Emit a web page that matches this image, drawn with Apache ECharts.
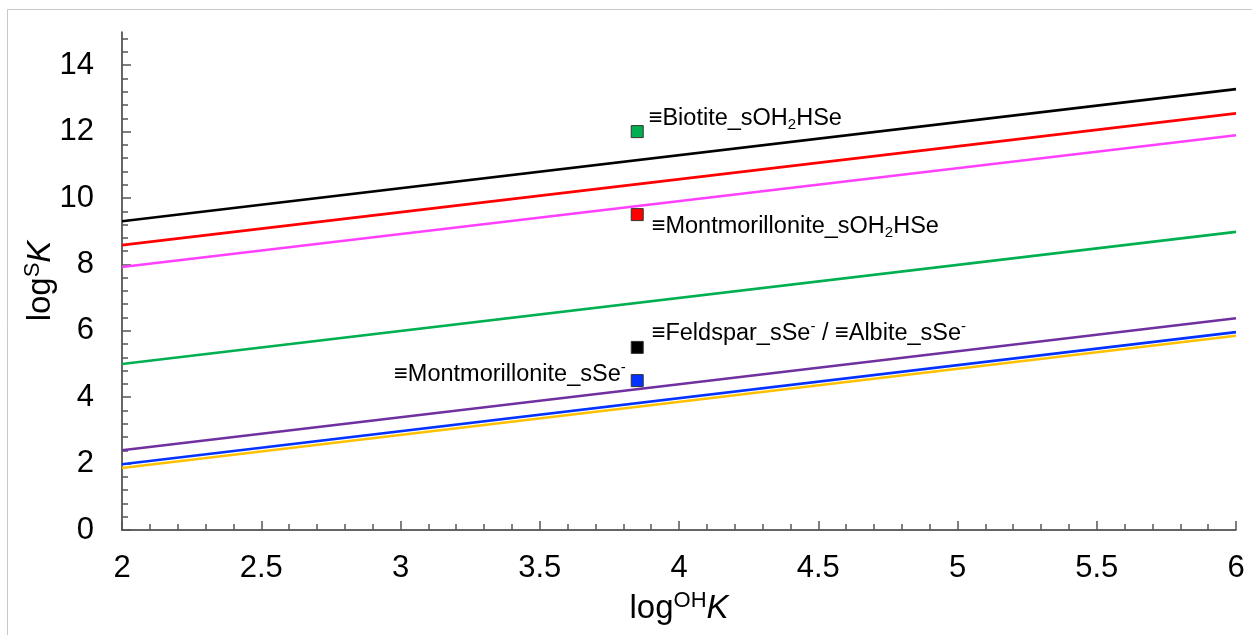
<!DOCTYPE html>
<html>
<head>
<meta charset="utf-8">
<script src="https://cdn.jsdelivr.net/npm/echarts@6/dist/echarts.min.js"></script>
<style>
  html, body { margin: 0; padding: 0; background: #fff; }
  #chart { width: 1252px; height: 635px; }
</style>
</head>
<body>
<div id="chart"></div>
<script>
// logOH K range covered by each linear relation
const xEnds = [2, 6];

// logS K at the two ends (x = 2 and x = 6) of each relation
const lineBlack   = [9.3, 13.28];
const lineRed     = [8.58, 12.55];
const lineMagenta = [7.92, 11.89];
const lineGreen   = [5.0, 8.98];
const linePurple  = [2.4, 6.38];
const lineBlue    = [1.98, 5.96];
const lineOrange  = [1.87, 5.85];

// Surface complexes at logOH K = 3.85
const pointX = 3.85;
const biotiteSOH2HSe = 12.0;
const montSOH2HSe = 9.5;
const feldsparSSe = 5.5;
const montSSe = 4.5;

// Tick values
const xTicks = [2, 2.5, 3, 3.5, 4, 4.5, 5, 5.5, 6];
const yTicks = [0, 2, 4, 6, 8, 10, 12, 14];
const yMinorStep = 0.4;

const yMinor = [];
for (let v = yMinorStep; v < 15 - 1e-9; v += yMinorStep) {
  const r = Math.round(v * 10) / 10;
  if (Math.abs(r / 2 - Math.round(r / 2)) > 1e-9) yMinor.push(r);
}

const font = '"Liberation Sans", Arial, Helvetica, sans-serif';

function lineSeries(vals, color) {
  return {
    type: 'line',
    data: xEnds.map((x, i) => [x, vals[i]]),
    showSymbol: false,
    silent: true,
    lineStyle: { color: color, width: 2.6 },
    z: 2
  };
}

const labelRich = {
  t: { fontSize: 23.5, color: '#000', fontFamily: font },
  sub: { fontSize: 15, color: '#000', fontFamily: font, padding: [12, 0, 0, 0] },
  sup: { fontSize: 15, color: '#000', fontFamily: font, padding: [0, 0, 14, 0] }
};

function pointSeries(y, color, text, position, offset) {
  return {
    type: 'scatter',
    data: [[pointX, y]],
    symbol: 'rect',
    symbolSize: 12,
    itemStyle: { color: color, borderColor: '#333', borderWidth: 1, opacity: 1 },
    label: {
      show: true,
      position: position,
      distance: 5,
      offset: offset,
      formatter: text,
      rich: labelRich
    },
    z: 5
  };
}

const titleRich = {
  a: { fontSize: 33, color: '#000', fontFamily: font },
  s: { fontSize: 22, color: '#000', fontFamily: font, padding: [0, 0, 15, 0] },
  k: { fontSize: 33, color: '#000', fontFamily: font, fontStyle: 'italic' }
};

const chart = echarts.init(document.getElementById('chart'), null, { renderer: 'canvas' });

chart.setOption({
  backgroundColor: '#fff',
  animation: false,
  graphic: [{
    type: 'rect',
    shape: { x: 7.5, y: 9.5, width: 1400, height: 800 },
    style: { fill: null, stroke: '#c8c8c8', lineWidth: 1 },
    silent: true,
    z: -10
  }],
  grid: { left: 122, right: 16, top: 32, bottom: 105, outerBoundsMode: 'none', containLabel: false },
  xAxis: {
    type: 'value',
    min: 2, max: 6, interval: 0.5,
    name: '{a|log}{s|OH}{k|K}',
    nameLocation: 'middle',
    nameGap: 60,
    nameMoveOverlap: false,
    nameTextStyle: { rich: titleRich },
    axisLine: { show: true, lineStyle: { color: '#333', width: 1.5 } },
    axisTick: { show: true, inside: true, length: 9, lineStyle: { color: '#555', width: 1.5 }, customValues: xTicks },
    minorTick: { show: true, splitNumber: 5, length: 6, lineStyle: { color: '#555', width: 1.5 } },
    axisLabel: {
      customValues: xTicks,
      margin: 23, fontSize: 31, color: '#000', fontFamily: font,
      formatter: v => String(v)
    },
    splitLine: { show: false },
    minorSplitLine: { show: false }
  },
  yAxis: [{
    type: 'value',
    min: 0, max: 15,
    name: '{a|log}{s|S}{k|K}',
    nameLocation: 'middle',
    nameRotate: 90,
    nameGap: 63,
    nameMoveOverlap: false,
    nameTextStyle: { rich: titleRich },
    axisLine: { show: true, lineStyle: { color: '#333', width: 1.5 } },
    axisTick: { show: true, inside: true, length: 9, lineStyle: { color: '#555', width: 1.5 }, customValues: yTicks },
    axisLabel: {
      customValues: yTicks,
      margin: 28, fontSize: 31, color: '#000', fontFamily: font
    },
    splitLine: { show: false }
  }, {
    type: 'value',
    min: 0, max: 15,
    position: 'left',
    axisLine: { show: false },
    axisTick: { show: true, inside: true, length: 6, lineStyle: { color: '#555', width: 1.5 }, customValues: yMinor },
    axisLabel: { show: false },
    splitLine: { show: false }
  }],
  series: [
    lineSeries(lineBlack, '#000000'),
    lineSeries(lineRed, '#ff0000'),
    lineSeries(lineMagenta, '#ff40ff'),
    lineSeries(lineGreen, '#00b050'),
    lineSeries(linePurple, '#7030a0'),
    lineSeries(lineBlue, '#0433ff'),
    lineSeries(lineOrange, '#ffc000'),
    pointSeries(biotiteSOH2HSe, '#00b050', '{t|≡Biotite_sOH}{sub|2}{t|HSe}', 'right', [0, -13]),
    pointSeries(montSOH2HSe, '#ff0000', '{t|≡Montmorillonite_sOH}{sub|2}{t|HSe}', 'right', [3, 12]),
    pointSeries(feldsparSSe, '#000000', '{t|≡Feldspar_sSe}{sup|-}{t| / ≡Albite_sSe}{sup|-}', 'right', [3, -14]),
    pointSeries(montSSe, '#0433ff', '{t|≡Montmorillonite_sSe}{sup|-}', 'left', [0, -6])
  ]
});
</script>
</body>
</html>
